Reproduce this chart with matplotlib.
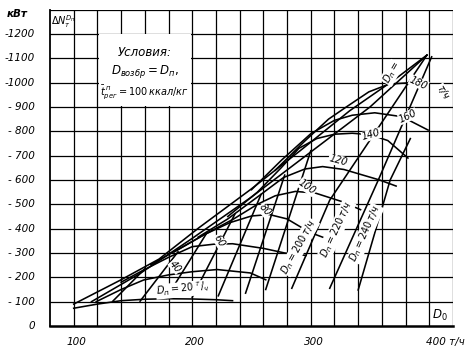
import matplotlib
matplotlib.use("Agg")
import matplotlib.pyplot as plt
from matplotlib.patches import Rectangle

# ---- values (D0 in t/h, dN in kW) ----
x_ticks = [100, 200, 300]
y_ticks = [0, 100, 200, 300, 400, 500, 600, 700, 800, 900, 1000, 1100, 1200]
y_tick_labels = ["0", "- 100", "- 200", "- 300", "- 400", "- 500", "- 600",
                 "- 700", "- 800", "- 900", "-1000", "-1100", "-1200"]

# left boundary lines
env1_x = [100, 140, 172, 206, 249, 291, 333, 370, 398]
env1_y = [90, 190, 275, 405, 560, 720, 885, 1010, 1113]
env2_x = [115, 156, 200, 250, 300, 350, 398]
env2_y = [100, 216, 360, 530, 715, 900, 1113]

# humped curves, D_p = 20 ... 180 t/h
arc_labels = [20, 40, 60, 80, 100, 120, 140, 160, 180]
arc_x = [
    [100, 120, 140, 160, 180, 200, 220, 234],
    [119, 140, 159, 180, 200, 221, 249, 262],
    [140, 159, 180, 200, 218, 234, 260, 278, 296],
    [165, 190, 210, 232, 250, 265, 280, 299, 310],
    [185, 210, 235, 255, 270, 287, 304, 327, 342],
    [205, 230, 255, 277, 295, 310, 328, 358, 372],
    [230, 255, 275, 290, 305, 320, 335, 350, 365, 382],
    [250, 275, 300, 320, 335, 354, 377, 399],
    [270, 295, 315, 330, 349, 366, 382, 395],
]
arc_y = [
    [73, 90, 104, 110, 112, 111, 108, 104],
    [100, 150, 189, 210, 223, 232, 218, 190],
    [180, 230, 282, 326, 336, 338, 319, 300, 290],
    [252, 320, 375, 425, 452, 458, 440, 385, 365],
    [305, 375, 440, 500, 535, 553, 546, 510, 478],
    [365, 440, 530, 610, 645, 655, 643, 600, 575],
    [450, 550, 650, 730, 770, 788, 792, 786, 762, 690],
    [560, 680, 790, 845, 866, 876, 860, 805],
    [640, 760, 850, 900, 962, 994, 999, 995],
]

# steep lines (lower end -> upper end)
steep_x = [
    [133, 160], [156, 188], [178, 212], [200, 236], [222, 258],
    [245, 278], [262, 300], [284, 316, 398], [316, 357, 402], [340, 367, 384],
]
steep_y = [
    [102, 235], [102, 305], [114, 380], [118, 460], [124, 540],
    [135, 620], [150, 720], [155, 517, 1113], [155, 600, 1106], [148, 600, 770],
]

fig = plt.figure(figsize=(4.7, 3.57), dpi=100)
ax = fig.add_axes([50 / 470, 31 / 357, 403 / 470, 316.4 / 357])
ax.set_xlim(80, 420)
ax.set_ylim(0, 1300)

# grid every 20 t/h and 100 kW
for gx in range(100, 421, 20):
    ax.axvline(gx, color="k", lw=0.9, zorder=1)
for gy in range(100, 1301, 100):
    ax.axhline(gy, color="k", lw=0.9, zorder=1)
for s in ["top", "right"]:
    ax.spines[s].set_visible(False)
ax.spines["left"].set_linewidth(1.3)
ax.spines["bottom"].set_linewidth(1.8)
ax.set_xticks([])
ax.set_yticks([])

# blank box for the conditions note
ax.add_patch(Rectangle((121, 902), 78, 296, facecolor="white", edgecolor="none", zorder=2))

tfont = dict(style="italic", fontsize=7.5, color="k")
for v, lab in zip(y_ticks, y_tick_labels):
    ax.annotate(lab, xy=(0, v), xycoords=ax.get_yaxis_transform(), xytext=(-11, 0),
                textcoords="offset points", ha="right", va="center", **tfont)
fig.text(7 / 470, 1 - 14 / 357, "кВт", ha="left", va="center", fontsize=7.5,
         style="italic", weight="bold")
for v in x_ticks:
    ax.annotate(str(v), xy=(v, 0), xycoords=ax.get_xaxis_transform(), xytext=(2, -8),
                textcoords="offset points", ha="center", va="top", **tfont)
ax.annotate("400 т/ч", xy=(397, 0), xycoords=ax.get_xaxis_transform(), xytext=(0, -8),
            textcoords="offset points", ha="left", va="top", **tfont)

ax.text(81, 1250, r"$\Delta N_т^{D_п}$", fontsize=7, ha="left", va="center", zorder=3)
ax.text(409, 45, r"$D_0$", fontsize=8.5, ha="center", va="center")

ax.text(160, 1125, "Условия:", fontsize=8.5, style="italic", ha="center", va="center", zorder=3)
ax.text(160, 1045, r"$D_{возбр} = D_п,$", fontsize=8.5, ha="center", va="center", zorder=3)
ax.text(160, 960, r"$\bar{t}^{\,п}_{рег}= 100\,ккал/кг$", fontsize=7, ha="center", va="center", zorder=3)

lw = 1.15
ax.plot(env1_x, env1_y, color="k", lw=lw, zorder=3)
ax.plot(env2_x, env2_y, color="k", lw=lw, zorder=3)
for xs, ys in zip(arc_x, arc_y):
    ax.plot(xs, ys, color="k", lw=lw, zorder=3)
for xs, ys in zip(steep_x, steep_y):
    ax.plot(xs, ys, color="k", lw=lw, zorder=3)

# curve labels
lab_kw = dict(fontsize=7, style="italic", ha="center", va="center", zorder=4,
              bbox=dict(facecolor="white", edgecolor="none", pad=0.3))
ax.text(192, 150, r"$D_п = 20\ ^{т}/_{ч}$", rotation=6, **lab_kw)
label_pos = [(186, 245, -50), (223, 350, -60), (261, 476, -50), (297, 570, -35),
             (323, 680, -15), (351, 785, 15), (382, 862, 25), (391, 999, -25)]
for (lx, ly, rot), v in zip(label_pos, arc_labels[1:]):
    ax.text(lx, ly, str(v), rotation=rot, **lab_kw)
ax.text(368, 1040, r"$D_п=$", rotation=60, **lab_kw)
ax.text(411, 962, "т/ч", rotation=-60, **lab_kw)
ax.text(290, 325, r"$D_п=200\,т/ч$", rotation=61, **lab_kw)
ax.text(322, 398, r"$D_п=220\,т/ч$", rotation=65, **lab_kw)
ax.text(346, 380, r"$D_п=240\,т/ч$", rotation=66, **lab_kw)

fig.savefig("out.png", dpi=100)
